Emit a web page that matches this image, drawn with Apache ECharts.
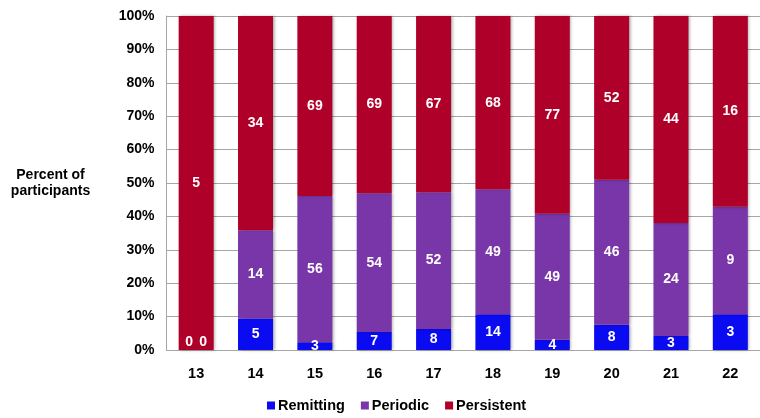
<!DOCTYPE html>
<html>
<head>
<meta charset="utf-8">
<script src="https://cdn.jsdelivr.net/npm/echarts@6/dist/echarts.min.js"></script>
<style>html,body{margin:0;padding:0;background:#fff}#c{width:760px;height:418px}</style>
</head>
<body>
<div id="c"></div>
<script>
var categories = ['13','14','15','16','17','18','19','20','21','22'];
var remitting  = [0, 5, 3, 7, 8, 14, 4, 8, 3, 3];
var periodic   = [0, 14, 56, 54, 52, 49, 49, 46, 24, 9];
var persistent = [5, 34, 69, 69, 67, 68, 77, 52, 44, 16];
var yTicks = [0,10,20,30,40,50,60,70,80,90,100];

var FONT = '"Liberation Sans", Arial, sans-serif';
var totals = categories.map(function(_, i){ return remitting[i] + periodic[i] + persistent[i]; });

function mk(name, counts, color, zeroOffset) {
  return {
    name: name,
    type: 'bar',
    stack: 'all',
    barWidth: 35,
    itemStyle: {
      color: color,
      shadowColor: 'rgba(0,0,0,0.35)',
      shadowBlur: 3,
      shadowOffsetX: 1.5,
      shadowOffsetY: 0
    },
    label: {
      show: true,
      position: 'inside',
      color: '#fff',
      fontWeight: 'bold',
      fontSize: 14,
      fontFamily: FONT,
      formatter: function(p){ return counts[p.dataIndex]; }
    },
    data: counts.map(function(v, i){
      var item = { value: totals[i] ? v / totals[i] * 100 : 0 };
      if (v === 0) {
        item.label = { position: 'insideBottom', offset: zeroOffset, distance: 0 };
      }
      return item;
    })
  };
}

var chart = echarts.init(document.getElementById('c'));
chart.setOption({
  animation: false,
  backgroundColor: '#fff',
  color: ['#0b0bf2', '#7936a8', '#ae0029'],
  grid: { left: 166.5, right: -10, top: 16, bottom: 68 },
  legend: {
    bottom: 5,
    left: 267,
    padding: 0,
    itemWidth: 8,
    itemHeight: 8,
    itemGap: 16,
    icon: 'rect',
    textStyle: { fontFamily: FONT, fontWeight: 'bold', fontSize: 14.5, color: '#000', padding: [0,0,0,-2] },
    data: ['Remitting', 'Periodic', 'Persistent']
  },
  xAxis: {
    type: 'category',
    data: categories,
    axisLine: { lineStyle: { color: '#a6a6a6', width: 1 } },
    axisTick: { show: false },
    axisLabel: { fontFamily: FONT, fontWeight: 'bold', fontSize: 14.5, color: '#000', margin: 16 }
  },
  yAxis: {
    type: 'value',
    min: 0, max: 100, interval: 10,
    name: 'Percent of\nparticipants',
    nameLocation: 'middle',
    nameRotate: 0,
    nameGap: 116,
    nameTextStyle: { fontFamily: FONT, fontWeight: 'bold', fontSize: 14, color: '#000', lineHeight: 16, align: 'center' },
    axisLine: { show: true, lineStyle: { color: '#a6a6a6', width: 1 } },
    axisTick: { show: false },
    splitLine: { lineStyle: { color: '#a6a6a6', width: 1 } },
    axisLabel: {
      fontFamily: FONT, fontWeight: 'bold', fontSize: 14, color: '#000', margin: 12,
      formatter: function(v){ return yTicks.indexOf(v) >= 0 ? v + '%' : ''; }
    }
  },
  series: [
    mk('Remitting', remitting, '#0b0bf2', [-7, -1]),
    mk('Periodic', periodic, '#7936a8', [7, -1]),
    mk('Persistent', persistent, '#ae0029', [0, 0])
  ]
});
</script>
</body>
</html>
